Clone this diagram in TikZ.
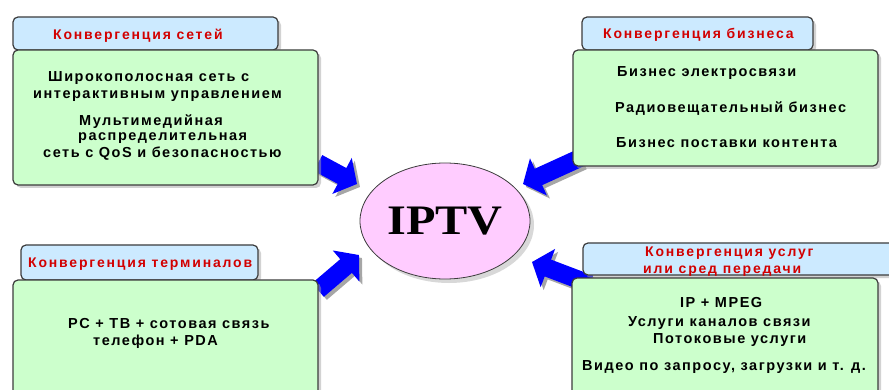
\documentclass[tikz,border=0pt]{standalone}
\usepackage{fontspec}
\setmainfont{Liberation Sans}
\newfontfamily\titlefont{Liberation Serif}
\usetikzlibrary{arrows.meta,shadows,shapes.geometric}
\definecolor{hdrblue}{RGB}{204,234,255}
\definecolor{boxgreen}{RGB}{204,255,204}
\definecolor{ovalpink}{RGB}{255,204,255}
\definecolor{edgegray}{RGB}{60,60,60}
\definecolor{hdrred}{RGB}{210,0,0}
\definecolor{arrowblue}{RGB}{0,0,255}
\tikzset{
  panel/.style={draw=edgegray, line width=1.2pt, rounded corners=5pt,
    drop shadow={shadow xshift=3pt, shadow yshift=-3pt, fill=black!35}},
  hdrpanel/.style={panel, fill=hdrblue},
  bodypanel/.style={panel, fill=boxgreen},
  hdrtext/.style={anchor=base west, inner sep=0pt, text=hdrred,
    font=\fontsize{14}{14}\selectfont\bfseries\addfontfeature{LetterSpace=13}},
  bodytext/.style={anchor=base west, inner sep=0pt, text=black,
    font=\fontsize{14.5}{14.5}\selectfont\bfseries\addfontfeature{LetterSpace=10.5}},
  blockarrow/.style={line width=18pt, arrowblue,
    -{Triangle[width=40pt,length=17pt]}},
  arrowshade/.style={line width=18pt, black!35,
    -{Triangle[width=40pt,length=17pt]}},
}
\begin{document}
\begin{tikzpicture}[x=1pt,y=-1pt]
\useasboundingbox (0,0) rectangle (889,390);
\clip (0,0) rectangle (889,390);

% central oval
\node[ellipse, draw=edgegray, line width=0.8pt, fill=ovalpink,
      minimum width=170pt, minimum height=116pt, inner sep=0pt,
      drop shadow={shadow xshift=4pt, shadow yshift=-4pt, fill=black!30}]
  (iptv) at (445,221) {\titlefont\fontsize{42}{42}\selectfont\bfseries\scalebox{1.15}[1]{IPTV}};

% anchor points of the four block arrows
\coordinate (a1t) at (318,163);  \coordinate (a1h) at (357,184);
\coordinate (a2t) at (580,158);  \coordinate (a2h) at (523,184);
\coordinate (a3t) at (318,290);  \coordinate (a3h) at (359,255);
\coordinate (a4t) at (590,284);  \coordinate (a4h) at (532,262);

% arrow shadows, then arrows
\foreach \t/\h in {a1t/a1h,a2t/a2h,a3t/a3h,a4t/a4h}{
  \draw[arrowshade] ([shift={(3,3)}]\t) -- ([shift={(3,3)}]\h);
}
\draw[blockarrow] (a1t) -- (a1h);
\draw[blockarrow] (a2t) -- (a2h);
\draw[blockarrow] (a3t) -- (a3h);
\draw[blockarrow] (a4t) -- (a4h);

% network convergence
\path[hdrpanel] (13,17) rectangle (278,50);
\path[bodypanel] (13,50) rectangle (318,185);
\node[hdrtext] (h1) at (53,40) {Конвергенция сетей};
\node[bodytext] (t11) at (48,82) {Широкополосная сеть с};
\node[bodytext] (t12) at (33,99) {интерактивным управлением};
\node[bodytext] (t13) at (79,126) {Мультимедийная};
\node[bodytext] (t14) at (78,141) {распределительная};
\node[bodytext] (t15) at (43,158) {сеть с QoS и безопасностью};

% business convergence
\path[hdrpanel] (582,17) rectangle (813,50);
\path[bodypanel] (573,50) rectangle (878,166);
\node[hdrtext] (h2) at (603,39) {Конвергенция бизнеса};
\node[bodytext] (t21) at (617,77) {Бизнес электросвязи};
\node[bodytext] (t22) at (615,113) {Радиовещательный бизнес};
\node[bodytext] (t23) at (616,148) {Бизнес поставки контента};

% terminal convergence
\path[hdrpanel] (21,245) rectangle (258,280);
\path[bodypanel] (13,280) rectangle (318,400);
\node[hdrtext] (h3) at (28,267) {Конвергенция терминалов};
\node[bodytext] (t31) at (68,328) {PC + ТВ + сотовая связь};
\node[bodytext] (t32) at (93,345) {телефон + PDA};

% service / medium convergence
\path[hdrpanel] (583,243) rectangle (900,275);
\path[bodypanel] (572,278) rectangle (878,400);
\node[hdrtext] (h4) at (645,257) {Конвергенция услуг};
\node[hdrtext] (h4b) at (643,273) {или сред передачи};
\node[bodytext] (t41) at (680,307) {IP + MPEG};
\node[bodytext] (t42) at (628,326) {Услуги каналов связи};
\node[bodytext] (t43) at (653,343) {Потоковые услуги};
\node[bodytext] (t44) at (582,370) {Видео по запросу, загрузки и т. д.};
\end{tikzpicture}
\end{document}
